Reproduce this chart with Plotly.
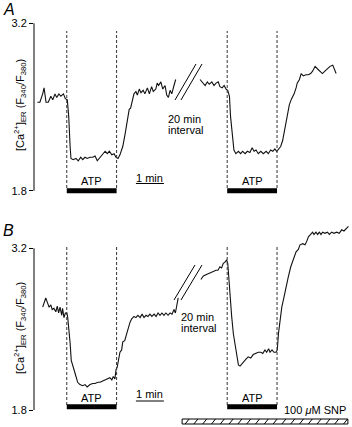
import plotly.graph_objects as go

# ---------------- data (time in min on the display axis, ratio F340/F380) ----------------
# Panel A, before the 20 min interval
a1_t = [0.12, 0.21, 0.31, 0.36, 0.43, 0.51, 0.60, 0.67, 0.75, 0.81, 0.89, 0.96, 1.05, 1.12, 1.19,
        1.24, 1.29, 1.32, 1.40, 1.50, 1.58, 1.67, 1.74, 1.82, 1.90, 2.00, 2.10, 2.18, 2.26, 2.36,
        2.45, 2.54, 2.62, 2.69, 2.78, 2.86, 2.93, 3.00, 3.07, 3.17, 3.25, 3.33, 3.40, 3.45, 3.51,
        3.57, 3.64, 3.69, 3.76, 3.82, 3.90, 3.96, 4.05, 4.12, 4.20, 4.26, 4.35, 4.40, 4.45, 4.53,
        4.60, 4.68, 4.74, 4.80, 4.86, 4.92, 5.00, 5.06]
a1_r = [2.54, 2.54, 2.61, 2.66, 2.54, 2.54, 2.59, 2.56, 2.61, 2.58, 2.61, 2.59, 2.61, 2.57, 2.56,
        2.42, 2.17, 2.07, 2.06, 2.07, 2.05, 2.08, 2.06, 2.08, 2.07, 2.08, 2.08, 2.09, 2.05, 2.08,
        2.10, 2.13, 2.11, 2.13, 2.10, 2.11, 2.08, 2.07, 2.10, 2.17, 2.27, 2.38, 2.48, 2.49, 2.56,
        2.61, 2.63, 2.60, 2.65, 2.62, 2.64, 2.61, 2.66, 2.61, 2.67, 2.63, 2.65, 2.70, 2.68, 2.71,
        2.65, 2.68, 2.60, 2.58, 2.64, 2.61, 2.68, 2.73]
# Panel A, after the interval
a2_t = [5.93, 6.02, 6.11, 6.19, 6.26, 6.35, 6.43, 6.50, 6.58, 6.64, 6.72, 6.79, 6.86, 6.92, 6.98,
        7.02, 7.08, 7.14, 7.21, 7.30, 7.38, 7.45, 7.54, 7.62, 7.71, 7.79, 7.86, 7.93, 8.01, 8.10,
        8.19, 8.29, 8.37, 8.45, 8.53, 8.60, 8.67, 8.74, 8.81, 8.88, 8.96, 9.05, 9.12, 9.20, 9.29,
        9.36, 9.40, 9.48, 9.54, 9.62, 9.71, 9.80, 9.88, 9.95, 10.04, 10.12, 10.21, 10.30, 10.39,
        10.48, 10.57, 10.67, 10.73, 10.79]
a2_r = [2.73, 2.70, 2.68, 2.71, 2.69, 2.71, 2.68, 2.70, 2.71, 2.67, 2.66, 2.68, 2.65, 2.64, 2.59,
        2.42, 2.24, 2.14, 2.11, 2.13, 2.11, 2.13, 2.11, 2.13, 2.12, 2.16, 2.13, 2.14, 2.11, 2.13,
        2.11, 2.13, 2.11, 2.14, 2.13, 2.15, 2.13, 2.15, 2.17, 2.22, 2.31, 2.42, 2.52, 2.57, 2.61,
        2.66, 2.70, 2.73, 2.78, 2.76, 2.77, 2.77, 2.78, 2.80, 2.84, 2.82, 2.80, 2.78, 2.80, 2.82,
        2.84, 2.85, 2.82, 2.78]
# Panel B, before the interval
b1_t = [0.31, 0.37, 0.42, 0.48, 0.54, 0.60, 0.65, 0.71, 0.78, 0.83, 0.88, 0.93, 0.99, 1.02, 1.07,
        1.12, 1.17, 1.20, 1.24, 1.29, 1.33, 1.38, 1.44, 1.50, 1.56, 1.64, 1.74, 1.82, 1.90, 2.00,
        2.10, 2.18, 2.28, 2.36, 2.45, 2.54, 2.62, 2.71, 2.78, 2.83, 2.89, 2.93, 2.97, 3.02, 3.07,
        3.13, 3.17, 3.24, 3.31, 3.37, 3.43, 3.49, 3.57, 3.64, 3.71, 3.79, 3.86, 3.93, 4.00, 4.07,
        4.14, 4.21, 4.29, 4.36, 4.43, 4.50, 4.57, 4.64, 4.71, 4.79, 4.86, 4.93, 5.00, 5.05, 5.10,
        5.15]
b1_r = [2.69, 2.74, 2.77, 2.73, 2.69, 2.71, 2.67, 2.68, 2.65, 2.70, 2.64, 2.69, 2.62, 2.68, 2.60,
        2.64, 2.64, 2.61, 2.52, 2.38, 2.23, 2.18, 2.14, 2.09, 2.04, 2.02, 2.01, 2.02, 2.00, 2.02,
        2.03, 2.03, 2.04, 2.04, 2.05, 2.06, 2.07, 2.08, 2.06, 2.09, 2.07, 2.15, 2.17, 2.25, 2.30,
        2.32, 2.39, 2.40, 2.46, 2.52, 2.56, 2.59, 2.61, 2.60, 2.62, 2.60, 2.63, 2.60, 2.62, 2.61,
        2.63, 2.61, 2.63, 2.61, 2.64, 2.62, 2.64, 2.62, 2.64, 2.62, 2.64, 2.63, 2.67, 2.64, 2.72,
        2.77]
# Panel B, after the interval (with SNP)
b2_t = [5.96, 6.05, 6.14, 6.23, 6.31, 6.40, 6.50, 6.57, 6.64, 6.70, 6.76, 6.82, 6.88, 6.92, 6.95,
        7.00, 7.06, 7.12, 7.18, 7.24, 7.30, 7.36, 7.42, 7.50, 7.57, 7.65, 7.74, 7.83, 7.93, 8.01,
        8.10, 8.17, 8.25, 8.31, 8.38, 8.43, 8.50, 8.57, 8.64, 8.69, 8.73, 8.79, 8.85, 8.93, 9.00,
        9.08, 9.17, 9.26, 9.36, 9.44, 9.50, 9.60, 9.68, 9.74, 9.80, 9.88, 9.95, 10.00, 10.07, 10.13,
        10.19, 10.25, 10.31, 10.39, 10.48, 10.55, 10.63, 10.71, 10.81, 10.90, 10.99, 11.07, 11.17,
        11.23]
b2_r = [2.93, 2.96, 2.97, 2.98, 2.99, 3.00, 3.01, 3.01, 3.04, 3.03, 3.07, 3.08, 3.10, 3.07, 2.95,
        2.78, 2.61, 2.46, 2.36, 2.26, 2.19, 2.18, 2.20, 2.22, 2.24, 2.26, 2.25, 2.28, 2.29, 2.30,
        2.30, 2.29, 2.32, 2.30, 2.33, 2.30, 2.32, 2.30, 2.30, 2.32, 2.46, 2.58, 2.69, 2.78, 2.87,
        2.95, 3.04, 3.11, 3.17, 3.19, 3.23, 3.24, 3.23, 3.26, 3.30, 3.32, 3.34, 3.32, 3.34, 3.32,
        3.34, 3.32, 3.34, 3.33, 3.34, 3.32, 3.34, 3.33, 3.34, 3.33, 3.36, 3.35, 3.37, 3.39]

atp_windows = [(1.17, 2.95), (6.90, 8.68)]   # min
snp_span = (5.29, 11.21)                      # min
scale_bar = (3.64, 4.64)                      # 1 min
y_ticks = [1.8, 3.2]
y_ticklabels = ["1.8", "3.2"]

# ---------------- layout helpers ----------------
W, H, L = 352, 427, 34
X_MAX = (W - L) / 28.0


def PX(p):
    return (p - L) / (W - L)


def PY(p):
    return 1 - p / H


FONT = "Liberation Sans, Arial, Helvetica, sans-serif"
LINE = dict(color="#111111", width=1.1)

fig = go.Figure()
for t, r, ax in [(a1_t, a1_r, "y"), (a2_t, a2_r, "y"), (b1_t, b1_r, "y2"), (b2_t, b2_r, "y2")]:
    fig.add_trace(go.Scatter(x=t, y=r, mode="lines", line=LINE, yaxis=ax, xaxis="x",
                             hoverinfo="skip"))

yax_common = dict(tickvals=y_ticks, ticktext=y_ticklabels, ticks="outside", ticklen=4,
                  tickwidth=1, tickcolor="black", showline=False, showgrid=False,
                  zeroline=False, tickfont=dict(family=FONT, size=11, color="black"),
                  anchor="x", fixedrange=True, automargin=False)

shapes = []
annotations = []

# y-axis lines between the two ticks
for ax in ["y", "y2"]:
    shapes.append(dict(type="line", xref="paper", yref=ax, x0=0, x1=0, y0=y_ticks[0],
                       y1=y_ticks[1], line=dict(color="black", width=1)))

# ATP windows
panel_px = {"A": dict(dash=(31, 188), bar=(188.3, 193.3), atp=181.5),
            "B": dict(dash=(247, 405), bar=(404.3, 409.3), atp=397.5)}
for key, p in panel_px.items():
    for (t0, t1) in atp_windows:
        for tx in (t0, t1):
            shapes.append(dict(type="line", xref="x", yref="paper", x0=tx, x1=tx,
                               y0=PY(p["dash"][1]), y1=PY(p["dash"][0]),
                               line=dict(color="#333333", width=1, dash="3px,2px")))
        shapes.append(dict(type="rect", xref="x", yref="paper", x0=t0, x1=t1,
                           y0=PY(p["bar"][1]), y1=PY(p["bar"][0]), fillcolor="black",
                           line=dict(width=0)))
        annotations.append(dict(text="ATP", xref="x", yref="paper", x=(t0 + t1) / 2,
                                y=PY(p["atp"]), showarrow=False, xanchor="center",
                                yanchor="middle", font=dict(family=FONT, size=11, color="black")))

# 1 min scale bars
for line_py, text_py in [(183.5, 177.5), (401, 393.5)]:
    shapes.append(dict(type="line", xref="x", yref="paper", x0=scale_bar[0], x1=scale_bar[1],
                       y0=PY(line_py), y1=PY(line_py), line=dict(color="black", width=1)))
    annotations.append(dict(text="1 min", xref="x", yref="paper",
                            x=(scale_bar[0] + scale_bar[1]) / 2, y=PY(text_py), showarrow=False,
                            xanchor="center", yanchor="middle",
                            font=dict(family=FONT, size=11, color="black")))

# break marks //
for (x0, y0, x1, y1) in [(175, 100, 196, 64), (181, 100, 202, 64),
                         (174, 300, 195, 265), (181, 300, 202, 265)]:
    shapes.append(dict(type="line", xref="paper", yref="paper", x0=PX(x0), y0=PY(y0),
                       x1=PX(x1), y1=PY(y1), line=dict(color="black", width=1)))

# 20 min interval text
for (lx, y1, y2) in [(166.5, 119, 130), (180, 317, 328)]:
    for txt, yy in [("20 min", y1), ("interval", y2)]:
        annotations.append(dict(text=txt, xref="paper", yref="paper", x=PX(lx), y=PY(yy),
                                showarrow=False, xanchor="left", yanchor="middle", borderpad=0,
                                font=dict(family=FONT, size=11, color="black")))

# SNP hatched bar
snp_top, snp_bot = 419, 424
shapes.append(dict(type="rect", xref="x", yref="paper", x0=snp_span[0], x1=snp_span[1],
                   y0=PY(snp_bot), y1=PY(snp_top), line=dict(color="black", width=1),
                   fillcolor="white"))
hx = L + snp_span[0] * 28 + 3
hx_end = L + snp_span[1] * 28 - 4
while hx < hx_end:
    shapes.append(dict(type="line", xref="paper", yref="paper", x0=PX(hx), y0=PY(snp_bot),
                       x1=PX(hx + 4), y1=PY(snp_top), line=dict(color="black", width=1)))
    hx += 8.8
annotations.append(dict(text="100 <i>μ</i>M SNP", xref="paper", yref="paper", x=PX(282),
                        y=PY(410), showarrow=False, xanchor="left", yanchor="middle",
                        font=dict(family=FONT, size=11, color="black")))

# panel letters
for letter, yy in [("A", 9), ("B", 230)]:
    annotations.append(dict(text="<i>%s</i>" % letter, xref="paper", yref="paper", x=PX(1),
                            y=PY(yy), showarrow=False, xanchor="left", yanchor="middle",
                            font=dict(family=FONT, size=16, color="black")))

# y-axis titles
ytitle = "[Ca<sup>2+</sup>]<sub>ER</sub> (F<sub>340</sub>/F<sub>380</sub>)"
for yy in [105, 328]:
    annotations.append(dict(text=ytitle, xref="paper", yref="paper", x=PX(20), y=PY(yy),
                            showarrow=False, textangle=-90, xanchor="center", yanchor="middle",
                            font=dict(family=FONT, size=11, color="black")))

fig.update_layout(
    width=W, height=H,
    margin=dict(l=L, r=0, t=0, b=0, pad=0, autoexpand=False),
    paper_bgcolor="white", plot_bgcolor="rgba(0,0,0,0)",
    showlegend=False,
    xaxis=dict(range=[0, X_MAX], visible=False, domain=[0, 1], fixedrange=True),
    yaxis=dict(domain=[1 - 200 / H, 1], range=[1.7226, 3.3948], **yax_common),
    yaxis2=dict(domain=[0, 1 - 215 / H], range=[1.6528, 3.4883], **yax_common),
    shapes=shapes,
    annotations=annotations,
)

fig.write_html("out.html", config={"displayModeBar": False},
               post_script="document.body.style.margin='0';document.body.style.overflow='hidden';")
